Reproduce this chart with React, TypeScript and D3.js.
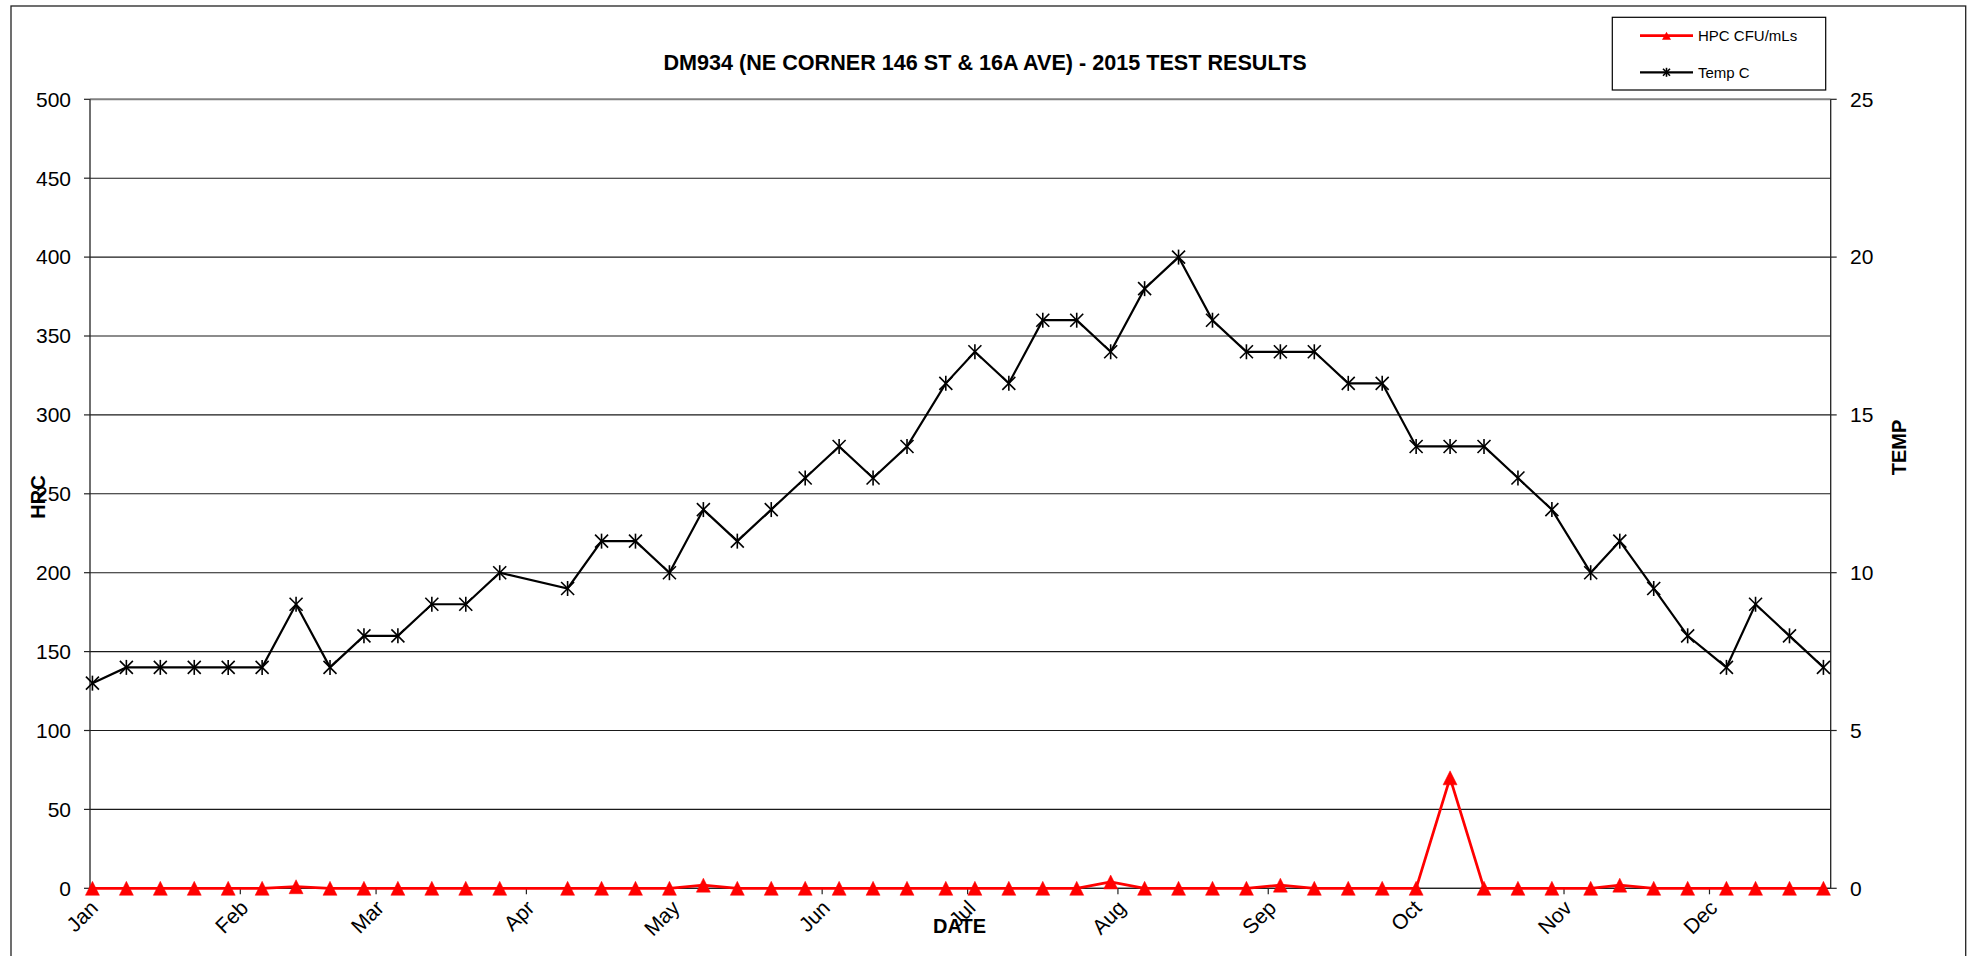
import React from "react";
import * as d3 from "d3";

const dates: string[] = [
  "2015-01-01", "2015-01-08", "2015-01-15", "2015-01-22", "2015-01-29",
  "2015-02-05", "2015-02-12", "2015-02-19", "2015-02-26",
  "2015-03-05", "2015-03-12", "2015-03-19", "2015-03-26",
  "2015-04-09", "2015-04-16", "2015-04-23", "2015-04-30",
  "2015-05-07", "2015-05-14", "2015-05-21", "2015-05-28",
  "2015-06-04", "2015-06-11", "2015-06-18", "2015-06-26",
  "2015-07-02", "2015-07-09", "2015-07-16", "2015-07-23", "2015-07-30",
  "2015-08-06", "2015-08-13", "2015-08-20", "2015-08-27",
  "2015-09-03", "2015-09-10", "2015-09-17", "2015-09-24",
  "2015-10-01", "2015-10-08", "2015-10-15", "2015-10-22", "2015-10-29",
  "2015-11-06", "2015-11-12", "2015-11-19", "2015-11-26",
  "2015-12-04", "2015-12-10", "2015-12-17", "2015-12-24",
];

const hpc: number[] = [
  0, 0, 0, 0, 0,
  0, 1, 0, 0,
  0, 0, 0, 0,
  0, 0, 0, 0,
  2, 0, 0, 0,
  0, 0, 0, 0,
  0, 0, 0, 0, 4,
  0, 0, 0, 0,
  2, 0, 0, 0,
  0, 70, 0, 0, 0,
  0, 2, 0, 0,
  0, 0, 0, 0,
];

const temp: number[] = [
  6.5, 7, 7, 7, 7,
  7, 9, 7, 8,
  8, 9, 9, 10,
  9.5, 11, 11, 10,
  12, 11, 12, 13,
  14, 13, 14, 16,
  17, 16, 18, 18, 17,
  19, 20, 18, 17,
  17, 17, 16, 16,
  14, 14, 14, 13, 12,
  10, 11, 9.5, 8,
  7, 9, 8, 7,
];

const leftTicks: number[] = [0, 50, 100, 150, 200, 250, 300, 350, 400, 450, 500];
const rightTicks: number[] = [0, 5, 10, 15, 20, 25];
const monthLabels: string[] = ["Jan", "Feb", "Mar", "Apr", "May", "Jun", "Jul", "Aug", "Sep", "Oct", "Nov", "Dec"];

const title = "DM934 (NE CORNER 146 ST & 16A AVE) - 2015 TEST RESULTS";
const seriesNames = ["HPC CFU/mLs", "Temp C"];

const FONT = "'Liberation Sans', Arial, Helvetica, sans-serif";

const W = 1975;
const H = 956;
const PL = 90;
const PR = 1830.7;
const PT = 99.3;
const PB = 888.3;

const parse = d3.timeParse("%Y-%m-%d %H:%M");

function Star({ x, y, s }: { x: number; y: number; s: number }) {
  return (
    <g transform={`translate(${x},${y})`} stroke="#000" strokeWidth={1.6} fill="none">
      <line x1={-s} y1={-s} x2={s} y2={s} />
      <line x1={-s} y1={s} x2={s} y2={-s} />
      <line x1={0} y1={-s - 1} x2={0} y2={s + 1} />
    </g>
  );
}

function Tri({ x, y, s }: { x: number; y: number; s: number }) {
  return (
    <path
      d={`M${x},${y - s}L${x + s},${y + s}L${x - s},${y + s}Z`}
      fill="#ff0000"
      stroke="#ff0000"
      strokeWidth={0.5}
    />
  );
}

export default function App() {
  const pts = dates.map((d, i) => ({
    date: parse(d + " 12:00") as Date,
    hpc: hpc[i],
    temp: temp[i],
  }));

  const x = d3
    .scaleTime()
    .domain([new Date(2015, 0, 1), new Date(2015, 11, 26)])
    .range([PL, PR]);
  const yL = d3.scaleLinear().domain([0, 500]).range([PB, PT]);
  const yR = d3.scaleLinear().domain([0, 25]).range([PB, PT]);

  const months = d3.timeMonth.range(new Date(2015, 0, 1), new Date(2015, 11, 26));

  const hpcLine = d3
    .line<(typeof pts)[number]>()
    .x((d) => x(d.date))
    .y((d) => yL(d.hpc));
  const tempLine = d3
    .line<(typeof pts)[number]>()
    .x((d) => x(d.date))
    .y((d) => yR(d.temp));

  return (
    <svg
      width={W}
      height={H}
      style={{ position: "fixed", left: 0, top: 0, background: "#fff" }}
      fontFamily={FONT}
    >
      <rect x={0} y={0} width={W} height={H} fill="#fff" />
      {/* chart area border */}
      <rect x={11} y={6} width={1954.7} height={1000} fill="none" stroke="#222" strokeWidth={1.3} />

      {/* title */}
      <text x={985} y={70} textAnchor="middle" fontSize={21.6} fontWeight="bold" fill="#000">
        {title}
      </text>

      {/* gridlines */}
      {leftTicks.map((t) => (
        <line
          key={"g" + t}
          x1={PL}
          x2={PR}
          y1={yL(t)}
          y2={yL(t)}
          stroke={t === 500 ? "#808080" : "#1a1a1a"}
          strokeWidth={t === 500 ? 2 : 1.1}
        />
      ))}

      {/* left axis */}
      <line x1={PL} x2={PL} y1={PT} y2={PB} stroke="#222" strokeWidth={1.3} />
      {leftTicks.map((t) => (
        <g key={"l" + t}>
          <line x1={PL - 6} x2={PL} y1={yL(t)} y2={yL(t)} stroke="#222" strokeWidth={1.2} />
          <text x={71} y={yL(t)} dy="0.35em" textAnchor="end" fontSize={21} fill="#000">
            {t}
          </text>
        </g>
      ))}

      {/* right axis */}
      <line x1={PR} x2={PR} y1={PT} y2={PB} stroke="#222" strokeWidth={1.3} />
      {rightTicks.map((t) => (
        <g key={"r" + t}>
          <line x1={PR} x2={PR + 6} y1={yR(t)} y2={yR(t)} stroke="#222" strokeWidth={1.2} />
          <text x={1850} y={yR(t)} dy="0.35em" textAnchor="start" fontSize={21} fill="#000">
            {t}
          </text>
        </g>
      ))}

      {/* x axis */}
      <line x1={PL} x2={PR} y1={PB} y2={PB} stroke="#222" strokeWidth={1.3} />
      {months.map((m, i) => (
        <g key={"m" + i}>
          <line x1={x(m)} x2={x(m)} y1={PB} y2={PB + 6} stroke="#222" strokeWidth={1.2} />
          <text
            transform={`translate(${x(m) + 4},${904}) rotate(-45)`}
            textAnchor="end"
            dy="0.35em"
            fontSize={21}
            fill="#000"
          >
            {monthLabels[m.getMonth()]}
          </text>
        </g>
      ))}

      {/* axis titles */}
      <text transform="translate(45,497) rotate(-90)" textAnchor="middle" fontSize={20} fontWeight="bold">
        HRC
      </text>
      <text transform="translate(1906,447.5) rotate(-90)" textAnchor="middle" fontSize={20} fontWeight="bold">
        TEMP
      </text>

      {/* HPC series */}
      <path d={hpcLine(pts) || ""} fill="none" stroke="#ff0000" strokeWidth={2.75} strokeLinejoin="miter" />
      {pts.map((p, i) => (
        <Tri key={"t" + i} x={x(p.date)} y={yL(p.hpc)} s={7} />
      ))}

      {/* Temp series */}
      <path d={tempLine(pts) || ""} fill="none" stroke="#000" strokeWidth={2.2} strokeLinejoin="miter" />
      {pts.map((p, i) => (
        <Star key={"s" + i} x={x(p.date)} y={yR(p.temp)} s={6.5} />
      ))}

      <text x={959.5} y={933} textAnchor="middle" fontSize={20} fontWeight="bold">
        DATE
      </text>

      {/* legend */}
      <rect x={1612.3} y={17.3} width={213.4} height={72.7} fill="#fff" stroke="#000" strokeWidth={1.2} />
      <line x1={1640} x2={1693} y1={35.7} y2={35.7} stroke="#ff0000" strokeWidth={2.75} />
      <path d={`M1666.5,31.7L1671,39.7L1662,39.7Z`} fill="#ff0000" />
      <text x={1698} y={35.7} dy="0.36em" fontSize={15}>
        {seriesNames[0]}
      </text>
      <line x1={1640} x2={1693} y1={72.3} y2={72.3} stroke="#000" strokeWidth={2.2} />
      <Star x={1666.5} y={72.3} s={3.5} />
      <text x={1698} y={72.3} dy="0.36em" fontSize={15}>
        {seriesNames[1]}
      </text>
    </svg>
  );
}
